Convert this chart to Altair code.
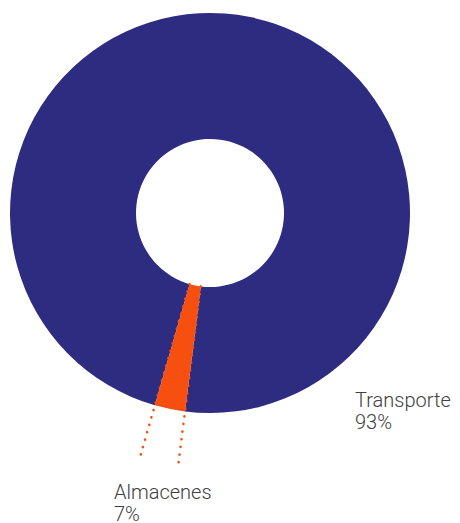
import math
import altair as alt
import pandas as pd

# Data
categories = ["Transporte", "Almacenes"]
drawn_share = [97.55, 2.45]          # angular share as drawn in the picture
label_text = ["Transporte\n93%", "Almacenes\n7%"]
colors = ["#2d2c80", "#f74f10"]

start_deg = 196.0
W, H = 444, 520
cx, cy = 202, 205
r_in, r_out = 74, 200
r_line = 257

df = pd.DataFrame({"cat": categories, "val": drawn_share, "ord": [0, 1]})

a0 = math.radians(start_deg)
theta_range = [a0, a0 + 2 * math.pi]

arcs = alt.Chart(df).mark_arc(innerRadius=r_in, outerRadius=r_out, stroke=None).encode(
    theta=alt.Theta("val:Q", stack=True, scale=alt.Scale(range=theta_range)),
    color=alt.Color("cat:N", scale=alt.Scale(domain=categories, range=colors), legend=None),
    order=alt.Order("ord:Q"),
    x=alt.value(cx),
    y=alt.value(cy),
)

# Edges of the small slice, derived from data
total = sum(drawn_share)
edge_start = start_deg + 360 * drawn_share[0] / total
edge_end = start_deg + 360.0
rows = []
for ang in [edge_start, edge_end]:
    t = math.radians(ang)
    rows.append({
        "x": cx + r_in * math.sin(t), "y": cy - r_in * math.cos(t),
        "x2": cx + r_line * math.sin(t), "y2": cy - r_line * math.cos(t),
    })
lines_df = pd.DataFrame(rows)

lines = alt.Chart(lines_df).mark_rule(
    color="#f74f10", strokeWidth=2.6, strokeDash=[0.1, 7.6], strokeCap="round"
).encode(
    x=alt.X("x:Q", scale=None), y=alt.Y("y:Q", scale=None),
    x2="x2:Q", y2="y2:Q",
)

text_style = dict(align="left", baseline="alphabetic", fontSize=20, font="Roboto",
                  fontWeight=300, color="#404040", lineHeight=22)

lab1 = alt.Chart(pd.DataFrame({"t": [label_text[0].split("\n")]})).mark_text(
    **text_style
).encode(text="t", x=alt.value(347), y=alt.value(399))

lab2 = alt.Chart(pd.DataFrame({"t": [label_text[1].split("\n")]})).mark_text(
    **text_style
).encode(text="t", x=alt.value(106), y=alt.value(491))

chart = alt.layer(arcs, lines, lab1, lab2).properties(
    width=W, height=H, padding=0, autosize=alt.AutoSizeParams(type="none")
).configure_view(stroke=None)

chart.save("out.html", embed_options={"renderer": "svg", "actions": False})
